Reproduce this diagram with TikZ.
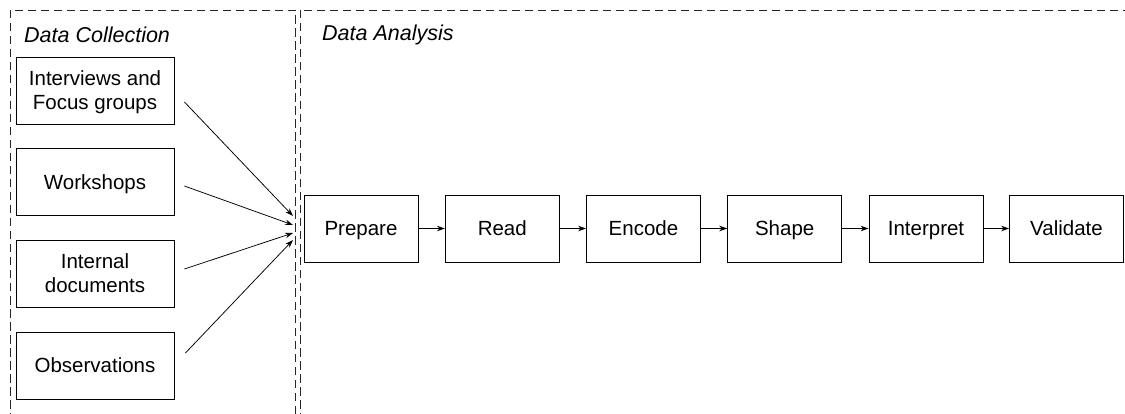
\documentclass[tikz,border=0pt]{standalone}
\usepackage{fontspec}
\setmainfont{Liberation Sans}
\usetikzlibrary{arrows.meta,calc}
\begin{document}
\begin{tikzpicture}[x=1pt,y=-1pt,
  panel/.style={draw=black!85,line width=0.9pt,dash pattern=on 8.5pt off 4.5pt},
  paneltitle/.style={anchor=west,inner sep=0pt,font=\fontsize{21.5}{26}\selectfont\itshape},
  boxbase/.style={draw,line width=0.85pt,inner sep=0pt,minimum height=67pt,
    align=center,font=\fontsize{20.5}{24.5}\selectfont,text height=14.7pt,text depth=0pt},
  twoline/.style={text height=38.6pt},
  srcbox/.style={boxbase,minimum width=158pt},
  stepbox/.style={boxbase,minimum width=114pt},
  link/.style={line width=0.75pt,-{Stealth[length=8pt,width=5.5pt]}}]
  \useasboundingbox (0,0) rectangle (1125,414);
  \clip (0,0) rectangle (1125,414);
  \fill[white] (0,0) rectangle (1125,414);

  % two dashed swimlanes
  \draw[panel] (10,10) rectangle (295,440);
  \draw[panel] (300,10) rectangle (1150,440);
  \node[paneltitle] (tcol) at (24,35) {Data Collection};
  \node[paneltitle] (tana) at (322,35) {Data Analysis};

  % data sources
  \node[srcbox,twoline] (interviews) at (95,90.5) {Interviews and\\Focus groups};
  \node[srcbox] (workshops) at (95,182) {Workshops};
  \node[srcbox,twoline] (documents) at (95,273.5) {Internal\\documents};
  \node[srcbox] (observations) at (95,365.5) {Observations};

  % analysis chain
  \node[stepbox] (prepare) at (361,228.5) {Prepare};
  \node[stepbox] (read) at (502.3,228.5) {Read};
  \node[stepbox] (encode) at (643.5,228.5) {Encode};
  \node[stepbox] (shape) at (784.7,228.5) {Shape};
  \node[stepbox] (interpret) at (926,228.5) {Interpret};
  \node[stepbox] (validate) at (1066.5,228.5) {Validate};

  % loose ends of the source arrows
  \coordinate (s1) at ($(interviews.east)+(10,11.5)$);
  \coordinate (s2) at ($(workshops.east)+(10,4)$);
  \coordinate (s3) at ($(documents.east)+(10,-4.5)$);
  \coordinate (s4) at ($(observations.east)+(11,-12.5)$);
  \coordinate (e1) at (293,216);
  \coordinate (e2) at (293,225);
  \coordinate (e3) at (293,233);
  \coordinate (e4) at (293,240);

  \draw[link] (s1) -- (e1);
  \draw[link] (s2) -- (e2);
  \draw[link] (s3) -- (e3);
  \draw[link] (s4) -- (e4);

  \draw[link] (prepare) -- (read);
  \draw[link] (read) -- (encode);
  \draw[link] (encode) -- (shape);
  \draw[link] (shape) -- (interpret);
  \draw[link] (interpret) -- (validate);
\end{tikzpicture}
\end{document}
